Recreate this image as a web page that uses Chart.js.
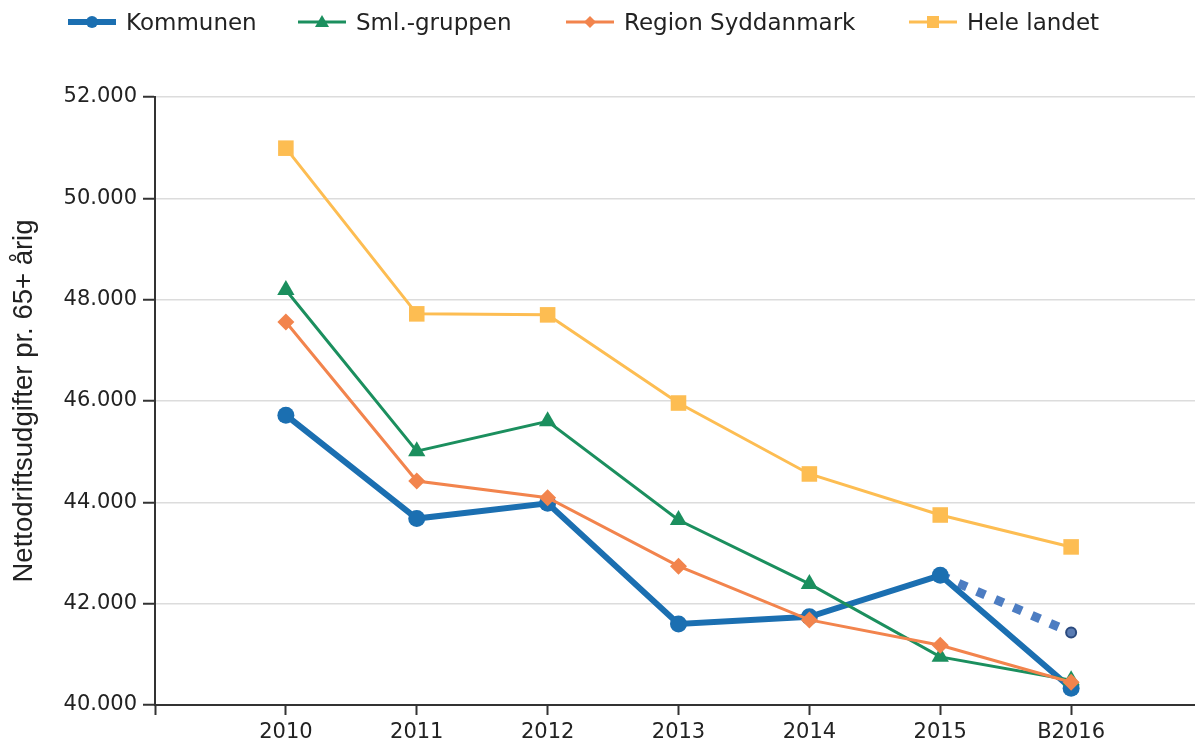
<!DOCTYPE html>
<html>
<head>
<meta charset="utf-8">
<script src="https://cdn.jsdelivr.net/npm/chart.js@4"></script>
<style>
  body { margin: 0; overflow: hidden; background: #fff; }
  #wrap { position: relative; width: 1195px; height: 742px; overflow: hidden; }
  #legend { position: absolute; top: 4px; left: 0; height: 36px; width: 1195px;
            font-family: 'DejaVu Sans', Verdana, sans-serif; font-size: 23px; color: #222; }
  #legend .item { position: absolute; top: 0; display: flex; align-items: center; gap: 10px; height: 36px; white-space: nowrap; }
</style>
</head>
<body>
<div id="wrap">
  <canvas id="lineChart" width="1213" height="742"></canvas>
  <div id="legend"></div>
</div>
<script>
// kategorier (tomme pladser i hver ende giver luft som i originalen)
const categories = ['', '2010', '2011', '2012', '2013', '2014', '2015', 'B2016', ''];
const years = ['2010', '2011', '2012', '2013', '2014', '2015', 'B2016'];

const kommunen = [45720, 43680, 43980, 41600, 41740, 42560, 40330];
const smlGruppen = [48190, 45010, 45600, 43650, 42390, 40950, 40490];
const regionSyddanmark = [47560, 44420, 44090, 42740, 41680, 41180, 40450];
const heleLandet = [50990, 47720, 47700, 45960, 44560, 43750, 43120];

// forventet udvikling (stiplet)
const prognoseYears = ['2015', 'B2016'];
const prognose = [42560, 41430];

const yTicks = [40000, 42000, 44000, 46000, 48000, 50000, 52000];

const toPoints = (labels, values) => values.map((v, i) => ({ x: labels[i], y: v }));
const formatDk = (v) => String(v).replace(/\B(?=(\d{3})+(?!\d))/g, '.');

const series = [
  { label: 'Kommunen', data: kommunen, color: '#1b6fb1', width: 6, point: 'circle', radius: 8.5, order: 4, legendX: 68 },
  { label: 'Sml.-gruppen', data: smlGruppen, color: '#1b8f5e', width: 3, point: 'triangle', radius: 10, order: 3, legendX: 298 },
  { label: 'Region Syddanmark', data: regionSyddanmark, color: '#f2844d', width: 3, point: 'rectRot', radius: 8.5, order: 2, legendX: 566 },
  { label: 'Hele landet', data: heleLandet, color: '#fdbd52', width: 3, point: 'rect', radius: 11, order: 1, legendX: 909 },
];

const datasets = series.map((s) => ({
  label: s.label,
  data: toPoints(years, s.data),
  borderColor: s.color,
  backgroundColor: s.color,
  borderWidth: s.width,
  pointStyle: s.point,
  pointRadius: s.radius,
  pointBorderWidth: 0,
  pointBackgroundColor: s.color,
  tension: 0,
  order: s.order,
}));

datasets.push({
  label: 'Prognose',
  data: toPoints(prognoseYears, prognose),
  borderColor: '#4d7dc2',
  borderWidth: 9,
  borderDash: [9, 11],
  borderCapStyle: 'butt',
  pointRadius: [0, 5],
  pointBackgroundColor: '#5a7cb3',
  pointBorderColor: '#2b4a7e',
  pointBorderWidth: 2,
  order: 5,
});

new Chart(document.getElementById('lineChart'), {
  type: 'line',
  data: { labels: categories, datasets: datasets },
  options: {
    responsive: false,
    animation: false,
    layout: { padding: { top: 97, right: 0, bottom: 0, left: 0 } },
    plugins: { legend: { display: false }, tooltip: { enabled: false } },
    scales: {
      x: {
        offset: false,
        grid: { drawOnChartArea: false, tickColor: '#333', tickLength: 10, tickWidth: 2 },
        border: { color: '#333', width: 2 },
        ticks: { color: '#222', padding: 5, maxRotation: 0, autoSkip: false,
                 font: { family: 'DejaVu Sans', size: 21 } },
        afterFit: (axis) => { axis.height = 37; },
      },
      y: {
        min: 40000,
        max: 52000,
        afterBuildTicks: (axis) => { axis.ticks = yTicks.map((v) => ({ value: v })); },
        grid: { color: '#dcdcdc', lineWidth: 1.5, tickColor: '#333', tickLength: 12, tickWidth: 2 },
        border: { color: '#333', width: 2 },
        ticks: { color: '#222', padding: 6, callback: (v) => formatDk(v),
                 font: { family: 'DejaVu Sans', size: 21 } },
        title: { display: true, text: 'Nettodriftsudgifter pr. 65+ årig', color: '#222',
                 padding: { top: 8, bottom: 0 },
                 font: { family: 'Liberation Sans', size: 27.5 } },
        afterFit: (axis) => { axis.width = 155; },
      },
    },
  },
});

// egen forklaring med linje + markør
function markerSvg(s) {
  const c = s.color;
  let shape = '';
  if (s.point === 'circle') shape = `<circle cx="24" cy="12" r="6" fill="${c}"/>`;
  if (s.point === 'triangle') shape = `<polygon points="24,5 31,17 17,17" fill="${c}"/>`;
  if (s.point === 'rectRot') shape = `<polygon points="24,6 30,12 24,18 18,12" fill="${c}"/>`;
  if (s.point === 'rect') shape = `<rect x="18" y="6" width="12" height="12" fill="${c}"/>`;
  return `<svg width="48" height="24"><line x1="0" y1="12" x2="48" y2="12" stroke="${c}" stroke-width="${s.width}"/>${shape}</svg>`;
}

document.getElementById('legend').innerHTML = series
  .map((s) => `<div class="item" style="left:${s.legendX}px">${markerSvg(s)}<span>${s.label}</span></div>`)
  .join('');
</script>
</body>
</html>
